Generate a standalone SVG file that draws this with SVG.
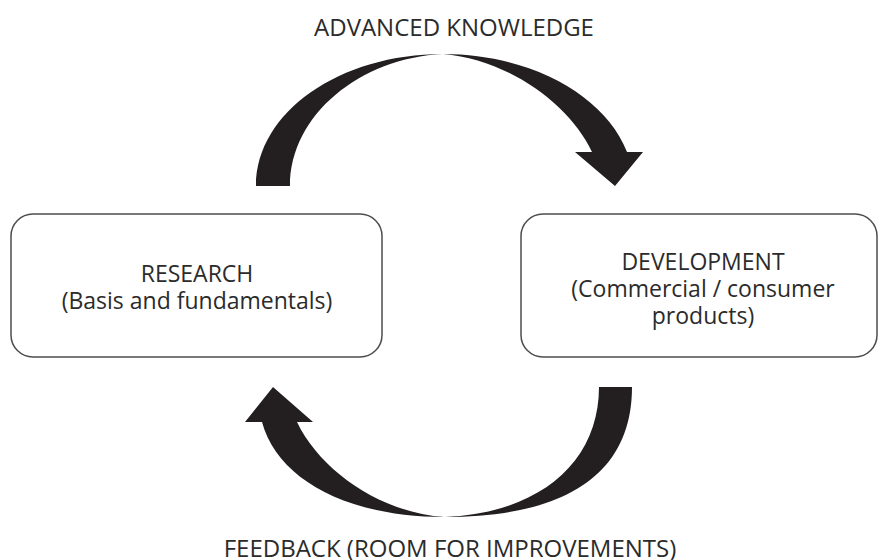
<svg xmlns="http://www.w3.org/2000/svg" width="879" height="560" viewBox="0 0 879 560">
<style>
.box{fill:#fff;stroke:#4d4d4d;stroke-width:1.5}
.t{font-family:"Open Sans","Noto Sans",sans-serif;font-size:23px;fill:#2b2b2b;text-anchor:middle}
.lbl{font-family:"Open Sans","Noto Sans",sans-serif;font-size:24px;fill:#2b2b2b;text-anchor:middle}
.arr{fill:#231f20}
</style>
<rect width="879" height="560" fill="#fff"/>
<g id="connectors">
<g id="advanced-knowledge">
<path class="arr" d="M256,186 C256,112 340,54 443,54 C530,54 605,95 627,152 L643,152 L615,186 L575,152 L592,152 C570,105 510,60 443,54 C360,58 290,115 290,186 Z"/>
<text class="lbl" x="454" y="36">ADVANCED KNOWLEDGE</text>
</g>
<g id="feedback">
<path class="arr" d="M632,387 C632,478 560,517 445,517 C345,517 277,478 262,422 L245,422 L273,387 L313,422 L297,422 C320,470 380,513 445,517 C540,513 599,462 599,387 Z"/>
<text class="lbl" x="450" y="557">FEEDBACK (ROOM FOR IMPROVEMENTS)</text>
</g>
</g>
<g id="research">
<rect class="box" x="11" y="214" width="371" height="143" rx="22"/>
<text class="t" x="197" y="282">RESEARCH<tspan x="197" dy="27">(Basis and fundamentals)</tspan></text>
</g>
<g id="development">
<rect class="box" x="521" y="214" width="356" height="143" rx="22"/>
<text class="t" x="703" y="270">DEVELOPMENT<tspan x="703" dy="27">(Commercial / consumer</tspan><tspan x="703" dy="27">products)</tspan></text>
</g>
</svg>
